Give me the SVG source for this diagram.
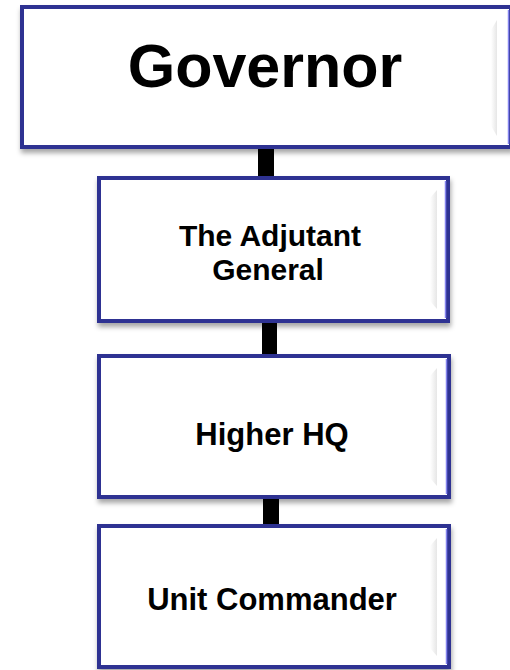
<svg xmlns="http://www.w3.org/2000/svg" width="510" height="670" viewBox="0 0 510 670">
<style>
.box{fill:#ffffff;stroke:#2e3192;stroke-width:4}
.hl{fill:none;stroke:#8484ee;stroke-width:1.5}
.bev{fill:url(#bevg)}
.lbl{font-family:"Liberation Sans",Arial,sans-serif;font-weight:bold;fill:#000;text-anchor:middle}
.conn{fill:#000}
</style>
<defs>
<filter id="sh" x="-10%" y="-10%" width="125%" height="130%">
<feDropShadow dx="1" dy="4" stdDeviation="2.5" flood-color="#000" flood-opacity="0.35"/>
</filter>
<linearGradient id="bevg" x1="0" y1="0" x2="1" y2="0">
<stop offset="0" stop-color="#ffffff"/>
<stop offset="1" stop-color="#e6e6e6"/>
</linearGradient>
</defs>
<g id="connectors">
<rect class="conn" x="258" y="146" width="16" height="33"/>
<rect class="conn" x="262" y="320" width="15" height="37"/>
<rect class="conn" x="263" y="496" width="16" height="33"/>
</g>
<g id="governor">
<rect class="box" x="22" y="7" width="489" height="140" filter="url(#sh)"/>
<line class="hl" x1="508.5" y1="10" x2="508.5" y2="144"/>
<polygon class="bev" points="491,30 497,20 497,136 491,126"/>
<text class="lbl" x="265" y="87" font-size="61">Governor</text>
</g>
<g id="adjutant">
<rect class="box" x="99" y="178" width="349" height="143" filter="url(#sh)"/>
<line class="hl" x1="445.5" y1="181" x2="445.5" y2="318"/>
<polygon class="bev" points="430,198 437,190 437,309 430,301"/>
<text class="lbl" x="270" y="246" font-size="30">The Adjutant</text>
<text class="lbl" x="268" y="280" font-size="30">General</text>
</g>
<g id="higherhq">
<rect class="box" x="99" y="356" width="350" height="141" filter="url(#sh)"/>
<line class="hl" x1="446.5" y1="359" x2="446.5" y2="494"/>
<polygon class="bev" points="430,376 437,368 437,486 430,478"/>
<text class="lbl" x="272" y="445" font-size="31">Higher HQ</text>
</g>
<g id="unitcommander">
<rect class="box" x="99" y="526" width="350" height="141" filter="url(#sh)"/>
<line class="hl" x1="446.5" y1="529" x2="446.5" y2="664"/>
<polygon class="bev" points="430,546 437,538 437,656 430,648"/>
<text class="lbl" x="272" y="610" font-size="31">Unit Commander</text>
</g>
</svg>
